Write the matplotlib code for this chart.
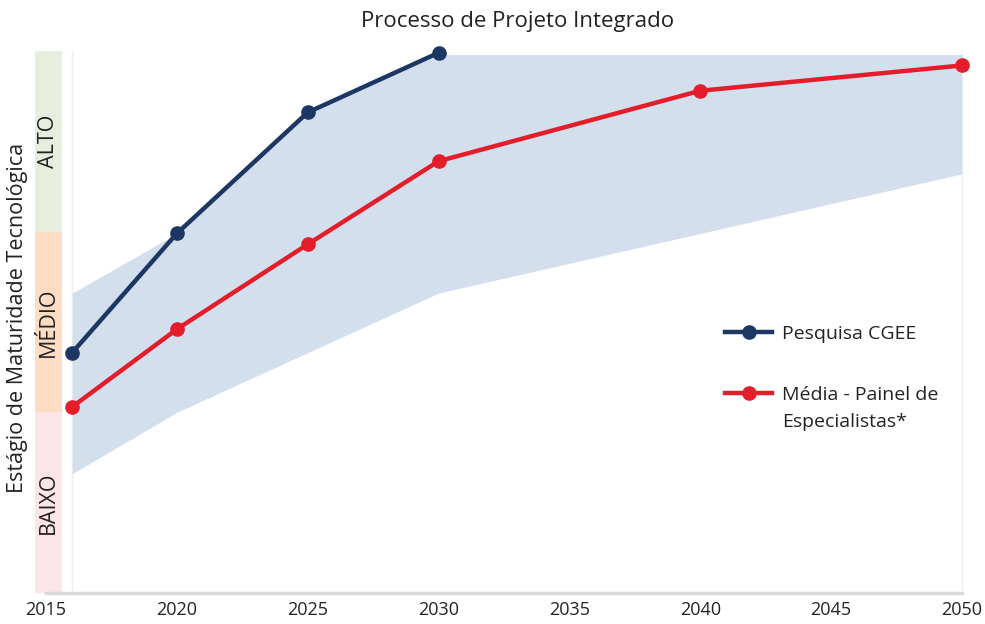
import matplotlib
matplotlib.use("Agg")
import matplotlib.pyplot as plt
from matplotlib.patches import Rectangle

plt.rcParams["font.family"] = ["Open Sans", "DejaVu Sans"]

COLOR_CGEE = "#1c3764"
COLOR_PAINEL = "#e31e2a"
COLOR_BAND = "#d4dfee"

years_cgee = [2016, 2020, 2025, 2030]
cgee = [1.33, 1.99, 2.66, 2.99]

years_painel = [2016, 2020, 2025, 2030, 2040, 2050]
painel = [1.03, 1.46, 1.93, 2.39, 2.78, 2.92]

band_years = [2016, 2020, 2025, 2030, 2040, 2050]
band_upper = [1.66, 1.99, 2.66, 2.98, 2.98, 2.98]
band_lower = [0.66, 1.00, 1.33, 1.66, 1.99, 2.32]

levels = ["BAIXO", "MÉDIO", "ALTO"]
level_colors = ["#fbe5e7", "#fddcc4", "#e8eedd"]
xticks = [2015, 2020, 2025, 2030, 2035, 2040, 2045, 2050]

fig = plt.figure(figsize=(9.85, 6.24), dpi=100)
ax = fig.add_axes([35 / 985, 31 / 624, 928 / 985, 542 / 624])
x0, x1 = 2014.58, 2050.04
ax.set_xlim(x0, x1)
ax.set_ylim(0, 3)

# faixas de nível à esquerda
for i, (lab, col) in enumerate(zip(levels, level_colors)):
    ax.add_patch(Rectangle((x0, i), 1.05, 1, color=col, lw=0, zorder=0))
    ax.text(x0 + 0.52, i + 0.5, lab, rotation=90, ha="center", va="center",
            fontsize=15.5, color="#222222")

ax.fill_between(band_years, band_lower, band_upper, color=COLOR_BAND, lw=0, zorder=1)
ax.axvline(2016, color="#eeeef3", lw=1, zorder=0.5)
ax.axvline(2050, color="#eeeef3", lw=1, zorder=0.5)
ax.plot([2015, 2050], [0, 0], color="#d9d9d9", lw=2.5, clip_on=False, zorder=2)

ax.plot(years_cgee, cgee, color=COLOR_CGEE, lw=3.2, marker="o", ms=9.5,
        label="Pesquisa CGEE", zorder=4, clip_on=False)
ax.plot(years_painel, painel, color=COLOR_PAINEL, lw=3.2, marker="o", ms=9.5,
        label="Média - Painel de", zorder=3, clip_on=False)

for s in ax.spines.values():
    s.set_visible(False)
ax.set_yticks([])
ax.set_xticks(xticks)
ax.set_xticklabels([str(t) for t in xticks], fontsize=13, color="#222222")
ax.tick_params(axis="x", length=0, pad=6)

fig.text(18 / 985, 1 - 318 / 624, "Estágio de Maturidade Tecnológica", rotation=90,
         ha="center", va="center", fontsize=15.5, color="#222222")
fig.text(518 / 985, 1 - 22 / 624, "Processo de Projeto Integrado", ha="center",
         va="center", fontsize=16, color="#222222")

leg = ax.legend(loc="upper left", bbox_to_anchor=(0.725, 0.527), frameon=False,
                fontsize=14, handlelength=2.4, handletextpad=0.5, labelspacing=2.2)
for t in leg.get_texts():
    t.set_color("#222222")

# segunda linha do rótulo do painel, logo abaixo do texto da legenda
fig.canvas.draw()
bb = leg.get_texts()[1].get_window_extent()
fig.text(bb.x0 / fig.bbox.width, (bb.y0 - 27 + bb.height / 2) / fig.bbox.height,
         "Especialistas*", ha="left", va="center", fontsize=14, color="#222222")

fig.savefig("out.png", dpi=100)
